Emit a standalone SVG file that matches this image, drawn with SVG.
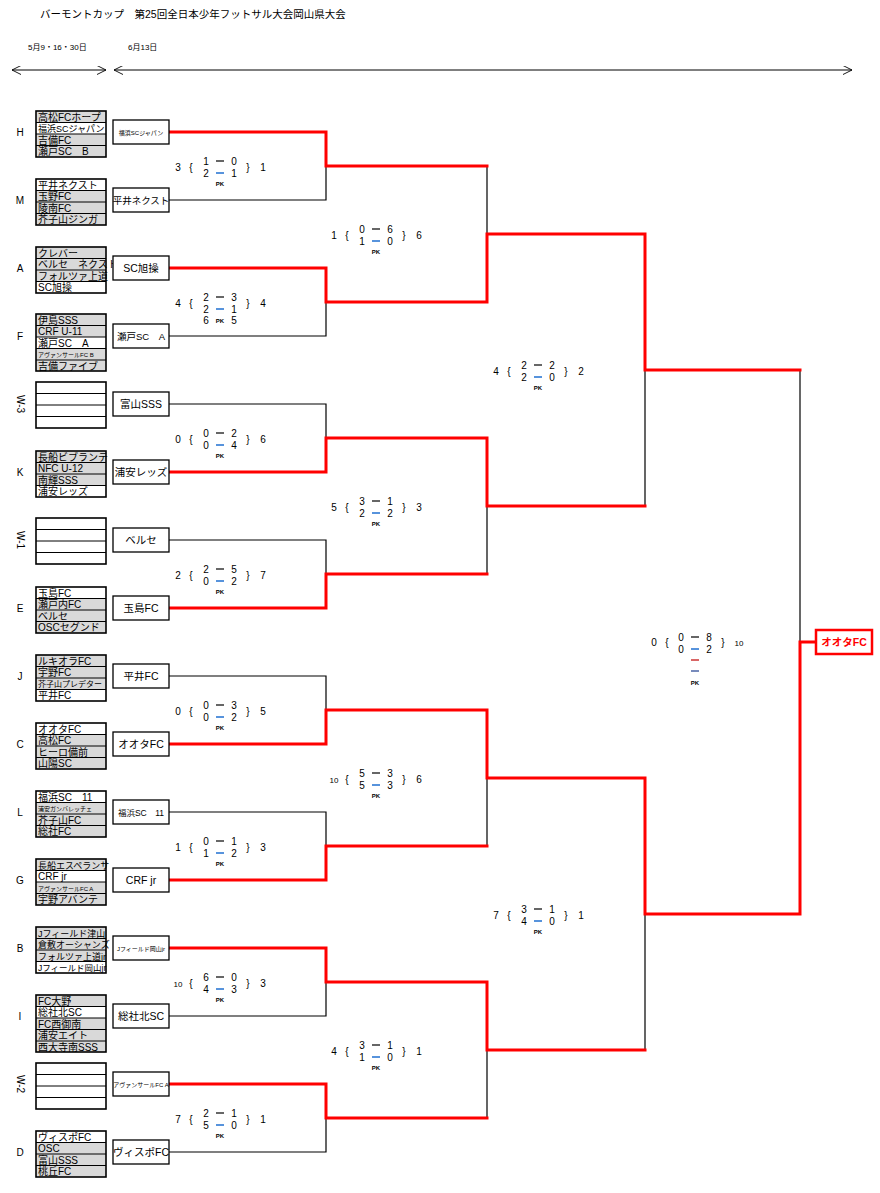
<svg xmlns="http://www.w3.org/2000/svg" width="880" height="1193" viewBox="0 0 880 1193">
<defs>
<marker id="ah" viewBox="0 0 10 10" refX="10" refY="5" markerWidth="9" markerHeight="9" orient="auto-start-reverse" markerUnits="userSpaceOnUse"><path d="M0,0 L10,5 L0,10" fill="none" stroke="#000" stroke-width="1"/></marker>
</defs>
<style>
text{font-family:"Liberation Sans","Noto Sans CJK JP",sans-serif;fill:#000}
.t{font-size:10px}
.ts{font-size:6px}
.wb{fill:#fff;stroke:#000;stroke-width:1.3}
.wt{font-size:10.5px;text-anchor:middle}
.wts{font-size:6px;text-anchor:middle}
.g{fill:#d9d9d9}
.w{fill:#fff}
.ol{fill:none;stroke:#000;stroke-width:1.6}
.sep{stroke:#000;stroke-width:1}
.lt{font-size:10px;text-anchor:middle}
.s{font-size:10px;text-anchor:middle}
.pk{font-size:6px;text-anchor:middle;font-weight:bold}
.bk{fill:none;stroke:#000;stroke-width:1.2}
.rd{fill:none;stroke:#ff0000;stroke-width:3;stroke-linecap:square}
.d1{stroke:#000;stroke-width:1.2}
.d2{stroke:#1f6fd0;stroke-width:1.5}
</style>
<rect width="880" height="1193" fill="#fff"/>
<g id="header">
<text x="40" y="18" style="font-size:10.5px">バーモントカップ　第25回全日本少年フットサル大会岡山県大会</text>
<text x="28" y="50" style="font-size:8px">5月9・16・30日</text>
<text x="128" y="50" style="font-size:8px">6月13日</text>
<line x1="12" y1="70" x2="106" y2="70" stroke="#000" stroke-width="1" marker-start="url(#ah)" marker-end="url(#ah)"/>
<line x1="114" y1="70" x2="852" y2="70" stroke="#000" stroke-width="1" marker-start="url(#ah)" marker-end="url(#ah)"/>
</g>

<g id="connectors">
<!-- black lines -->
<path class="bk" d="M169,200H326V166 M169,336H326V302 M169,404H326V438 M169,540H326V574 M169,676H326V710 M169,812H326V846 M169,1016H326V982 M169,1152H326V1118"/>
<path class="bk" d="M487,166V234 M487,574V506 M487,846V778 M487,1118V1050"/>
<path class="bk" d="M645,506V370 M645,1050V914"/>
<path class="bk" d="M800,370V642"/>
<!-- red lines -->
<path class="rd" d="M169,132H326V166H487 M169,268H326V302H487V234H645V370H800 M169,472H326V438H487V506H645 M169,608H326V574H487"/>
<path class="rd" d="M169,744H326V710H487V778H645V914H800V642H816 M169,880H326V846H487 M169,948H326V982H487V1050H645 M169,1084H326V1118H487"/>
</g>

<g id="groups">
<!-- H -->
<g id="grp-H"><text class="lt" x="20" y="136">H</text>
<rect class="g" x="36" y="111" width="70" height="46"/><rect class="w" x="36" y="122.5" width="70" height="11.5"/>
<path class="sep" d="M36,122.5H106M36,134H106M36,145.5H106"/><rect class="ol" x="36" y="111" width="70" height="46"/>
<text class="t" x="38" y="120.5">高松FCホープ</text><text class="t" x="38" y="132" style="font-size:9px">福浜SCジャパン</text><text class="t" x="38" y="143.5">吉備FC</text><text class="t" x="38" y="155">瀬戸SC　B</text></g>
<!-- M -->
<g id="grp-M"><text class="lt" x="20" y="204">M</text>
<rect class="g" x="36" y="179" width="70" height="46"/><rect class="w" x="36" y="179" width="70" height="11.5"/>
<path class="sep" d="M36,190.5H106M36,202H106M36,213.5H106"/><rect class="ol" x="36" y="179" width="70" height="46"/>
<text class="t" x="38" y="188.5">平井ネクスト</text><text class="t" x="38" y="200">玉野FC</text><text class="t" x="38" y="211.5">陵南FC</text><text class="t" x="38" y="223">芥子山ジンガ</text></g>
<!-- A -->
<g id="grp-A"><text class="lt" x="20" y="272">A</text>
<rect class="g" x="36" y="247" width="70" height="46"/><rect class="w" x="36" y="281.5" width="70" height="11.5"/>
<path class="sep" d="M36,258.5H106M36,270H106M36,281.5H106"/><rect class="ol" x="36" y="247" width="70" height="46"/>
<text class="t" x="38" y="256.5">クレバー</text><text class="t" x="38" y="268">ベルセ　ネクスト</text><text class="t" x="38" y="279.5">フォルツァ上道</text><text class="t" x="38" y="291">SC旭操</text></g>
<!-- F -->
<g id="grp-F"><text class="lt" x="20" y="340">F</text>
<rect class="g" x="36" y="314" width="70" height="57"/><rect class="w" x="36" y="337" width="70" height="11.5"/>
<path class="sep" d="M36,325.5H106M36,337H106M36,348.5H106M36,360H106"/><rect class="ol" x="36" y="314" width="70" height="57"/>
<text class="t" x="38" y="323.5">伊島SSS</text><text class="t" x="38" y="335">CRF U-11</text><text class="t" x="38" y="346.5">瀬戸SC　A</text><text class="ts" x="38" y="357">アヴァンサールFC  B</text><text class="t" x="38" y="369.5">吉備ファイブ</text></g>
<!-- W-3 -->
<g id="grp-W3"><text class="lt" transform="translate(17,404) rotate(90)" x="0" y="0">W-3</text>
<rect class="w" x="36" y="382" width="70" height="46"/>
<path class="sep" d="M36,393.5H106M36,405H106M36,416.5H106"/><rect class="ol" x="36" y="382" width="70" height="46"/></g>
<!-- K -->
<g id="grp-K"><text class="lt" x="20" y="476">K</text>
<rect class="g" x="36" y="451" width="70" height="46"/><rect class="w" x="36" y="485.5" width="70" height="11.5"/>
<path class="sep" d="M36,462.5H106M36,474H106M36,485.5H106"/><rect class="ol" x="36" y="451" width="70" height="46"/>
<text class="t" x="38" y="460.5">長船ビブランテ</text><text class="t" x="38" y="472">NFC U-12</text><text class="t" x="38" y="483.5">南輝SSS</text><text class="t" x="38" y="495">浦安レッズ</text></g>
<!-- W-1 -->
<g id="grp-W1"><text class="lt" transform="translate(17,540) rotate(90)" x="0" y="0">W-1</text>
<rect class="w" x="36" y="518" width="70" height="46"/>
<path class="sep" d="M36,529.5H106M36,541H106M36,552.5H106"/><rect class="ol" x="36" y="518" width="70" height="46"/></g>
<!-- E -->
<g id="grp-E"><text class="lt" x="20" y="612">E</text>
<rect class="g" x="36" y="587" width="70" height="46"/><rect class="w" x="36" y="587" width="70" height="11.5"/>
<path class="sep" d="M36,598.5H106M36,610H106M36,621.5H106"/><rect class="ol" x="36" y="587" width="70" height="46"/>
<text class="t" x="38" y="596.5">玉島FC</text><text class="t" x="38" y="608">瀬戸内FC</text><text class="t" x="38" y="619.5">ベルセ</text><text class="t" x="38" y="631">OSCセグンド</text></g>
<!-- J -->
<g id="grp-J"><text class="lt" x="20" y="680">J</text>
<rect class="g" x="36" y="655" width="70" height="46"/><rect class="w" x="36" y="689.5" width="70" height="11.5"/>
<path class="sep" d="M36,666.5H106M36,678H106M36,689.5H106"/><rect class="ol" x="36" y="655" width="70" height="46"/>
<text class="t" x="38" y="664.5">ルキオラFC</text><text class="t" x="38" y="676">宇野FC</text><text class="t" x="38" y="687" style="font-size:8px">芥子山プレデター</text><text class="t" x="38" y="699">平井FC</text></g>
<!-- C -->
<g id="grp-C"><text class="lt" x="20" y="748">C</text>
<rect class="g" x="36" y="723" width="70" height="46"/><rect class="w" x="36" y="723" width="70" height="11.5"/>
<path class="sep" d="M36,734.5H106M36,746H106M36,757.5H106"/><rect class="ol" x="36" y="723" width="70" height="46"/>
<text class="t" x="38" y="732.5">オオタFC</text><text class="t" x="38" y="744">高松FC</text><text class="t" x="38" y="755.5">ヒーロ備前</text><text class="t" x="38" y="767">山陽SC</text></g>
<!-- L -->
<g id="grp-L"><text class="lt" x="20" y="816">L</text>
<rect class="g" x="36" y="791" width="70" height="46"/><rect class="w" x="36" y="791" width="70" height="11.5"/>
<path class="sep" d="M36,802.5H106M36,814H106M36,825.5H106"/><rect class="ol" x="36" y="791" width="70" height="46"/>
<text class="t" x="38" y="800.5">福浜SC　11</text><text class="ts" x="38" y="811">浦安ガンバレッチェ</text><text class="t" x="38" y="823.5">芥子山FC</text><text class="t" x="38" y="835">総社FC</text></g>
<!-- G -->
<g id="grp-G"><text class="lt" x="20" y="884">G</text>
<rect class="g" x="36" y="859" width="70" height="46"/><rect class="w" x="36" y="870.5" width="70" height="11.5"/>
<path class="sep" d="M36,870.5H106M36,882H106M36,893.5H106"/><rect class="ol" x="36" y="859" width="70" height="46"/>
<text class="t" x="38" y="868.5" style="font-size:9px">長船エスペランサ</text><text class="t" x="38" y="880">CRF jr</text><text class="ts" x="38" y="890.5">アヴァンサールFC  A</text><text class="t" x="38" y="903">宇野アバンテ</text></g>
<!-- B -->
<g id="grp-B"><text class="lt" x="20" y="952">B</text>
<rect class="g" x="36" y="927" width="70" height="46"/><rect class="w" x="36" y="961.5" width="70" height="11.5"/>
<path class="sep" d="M36,938.5H106M36,950H106M36,961.5H106"/><rect class="ol" x="36" y="927" width="70" height="46"/>
<text class="t" x="38" y="936.5" style="font-size:9px">Jフィールド津山</text><text class="t" x="38" y="948" style="font-size:9px">倉敷オーシャンズ</text><text class="t" x="38" y="959.5" style="font-size:9px">フォルツァ上道jr</text><text class="t" x="38" y="971" style="font-size:8.5px">Jフィールド岡山jr</text></g>
<!-- I -->
<g id="grp-I"><text class="lt" x="20" y="1020">I</text>
<rect class="g" x="36" y="995" width="70" height="57"/><rect class="w" x="36" y="1006.5" width="70" height="11.5"/>
<path class="sep" d="M36,1006.5H106M36,1018H106M36,1029.5H106M36,1041H106"/><rect class="ol" x="36" y="995" width="70" height="57"/>
<text class="t" x="38" y="1004.5">FC大野</text><text class="t" x="38" y="1016">総社北SC</text><text class="t" x="38" y="1027.5">FC西御南</text><text class="t" x="38" y="1039">浦安エイト</text><text class="t" x="38" y="1050.5">西大寺南SSS</text></g>
<!-- W-2 -->
<g id="grp-W2"><text class="lt" transform="translate(17,1084) rotate(90)" x="0" y="0">W-2</text>
<rect class="w" x="36" y="1063" width="70" height="46"/>
<path class="sep" d="M36,1074.5H106M36,1086H106M36,1097.5H106"/><rect class="ol" x="36" y="1063" width="70" height="46"/></g>
<!-- D -->
<g id="grp-D"><text class="lt" x="20" y="1156">D</text>
<rect class="g" x="36" y="1131" width="70" height="46"/><rect class="w" x="36" y="1131" width="70" height="11.5"/>
<path class="sep" d="M36,1142.5H106M36,1154H106M36,1165.5H106"/><rect class="ol" x="36" y="1131" width="70" height="46"/>
<text class="t" x="38" y="1140.5">ヴィスポFC</text><text class="t" x="38" y="1152">OSC</text><text class="t" x="38" y="1163.5">富山SSS</text><text class="t" x="38" y="1175">桃丘FC</text></g>
</g>

<g id="winners">
<g id="w0"><rect class="wb" x="113" y="120" width="56" height="24"/><text class="wts" x="141" y="134.5">福浜SCジャパン</text></g>
<g id="w1"><rect class="wb" x="113" y="188" width="56" height="24"/><text class="wt" x="141" y="204" style="font-size:9.5px">平井ネクスト</text></g>
<g id="w2"><rect class="wb" x="113" y="256" width="56" height="24"/><text class="wt" x="141" y="272">SC旭操</text></g>
<g id="w3"><rect class="wb" x="113" y="324" width="56" height="24"/><text class="wt" x="141" y="340" style="font-size:9.5px">瀬戸SC　A</text></g>
<g id="w4"><rect class="wb" x="113" y="392" width="56" height="24"/><text class="wt" x="141" y="408">富山SSS</text></g>
<g id="w5"><rect class="wb" x="113" y="460" width="56" height="24"/><text class="wt" x="141" y="476">浦安レッズ</text></g>
<g id="w6"><rect class="wb" x="113" y="528" width="56" height="24"/><text class="wt" x="141" y="544">ベルセ</text></g>
<g id="w7"><rect class="wb" x="113" y="596" width="56" height="24"/><text class="wt" x="141" y="612">玉島FC</text></g>
<g id="w8"><rect class="wb" x="113" y="664" width="56" height="24"/><text class="wt" x="141" y="680">平井FC</text></g>
<g id="w9"><rect class="wb" x="113" y="732" width="56" height="24"/><text class="wt" x="141" y="748">オオタFC</text></g>
<g id="w10"><rect class="wb" x="113" y="800" width="56" height="24"/><text class="wt" x="141" y="815.5" style="font-size:8.5px">福浜SC　11</text></g>
<g id="w11"><rect class="wb" x="113" y="868" width="56" height="24"/><text class="wt" x="141" y="884">CRF jr</text></g>
<g id="w12"><rect class="wb" x="113" y="936" width="56" height="24"/><text class="wts" x="141" y="950.5">Jフィールド岡山jr</text></g>
<g id="w13"><rect class="wb" x="113" y="1004" width="56" height="24"/><text class="wt" x="141" y="1020">総社北SC</text></g>
<g id="w14"><rect class="wb" x="113" y="1072" width="56" height="24"/><text class="wts" x="141" y="1086.5">アヴァンサールFC  A</text></g>
<g id="w15"><rect class="wb" x="113" y="1140" width="56" height="24"/><text class="wt" x="141" y="1156">ヴィスポFC</text></g>
<g id="champion"><rect x="816" y="630" width="56" height="24" fill="#fff" stroke="#ff0000" stroke-width="2.5"/><text x="844" y="646" style="font-size:10.5px;font-weight:bold;fill:#ff0000;text-anchor:middle">オオタFC</text></g>
</g>

<g id="scores">
<!-- R1 -->
<g transform="translate(178,166)"><text class="s" x="0" y="5">3</text><text class="s" x="13" y="5">{</text><text class="s" x="28" y="-1">1</text><text class="s" x="56" y="-1">0</text><text class="s" x="28" y="11">2</text><text class="s" x="56" y="11">1</text><text class="s" x="70" y="5">}</text><text class="s" x="85" y="5">1</text><line class="d1" x1="38" y1="-5" x2="46" y2="-5"/><line class="d2" x1="38" y1="7" x2="46" y2="7"/><text class="pk" x="42" y="20">PK</text></g>
<g transform="translate(178,302)"><text class="s" x="0" y="5">4</text><text class="s" x="13" y="5">{</text><text class="s" x="28" y="-1">2</text><text class="s" x="56" y="-1">3</text><text class="s" x="28" y="11">2</text><text class="s" x="56" y="11">1</text><text class="s" x="70" y="5">}</text><text class="s" x="85" y="5">4</text><line class="d1" x1="38" y1="-5" x2="46" y2="-5"/><line class="d2" x1="38" y1="7" x2="46" y2="7"/><text class="s" x="28" y="22">6</text><text class="pk" x="42" y="21">PK</text><text class="s" x="56" y="22">5</text></g>
<g transform="translate(178,438)"><text class="s" x="0" y="5">0</text><text class="s" x="13" y="5">{</text><text class="s" x="28" y="-1">0</text><text class="s" x="56" y="-1">2</text><text class="s" x="28" y="11">0</text><text class="s" x="56" y="11">4</text><text class="s" x="70" y="5">}</text><text class="s" x="85" y="5">6</text><line class="d1" x1="38" y1="-5" x2="46" y2="-5"/><line class="d2" x1="38" y1="7" x2="46" y2="7"/><text class="pk" x="42" y="20">PK</text></g>
<g transform="translate(178,574)"><text class="s" x="0" y="5">2</text><text class="s" x="13" y="5">{</text><text class="s" x="28" y="-1">2</text><text class="s" x="56" y="-1">5</text><text class="s" x="28" y="11">0</text><text class="s" x="56" y="11">2</text><text class="s" x="70" y="5">}</text><text class="s" x="85" y="5">7</text><line class="d1" x1="38" y1="-5" x2="46" y2="-5"/><line class="d2" x1="38" y1="7" x2="46" y2="7"/><text class="pk" x="42" y="20">PK</text></g>
<g transform="translate(178,710)"><text class="s" x="0" y="5">0</text><text class="s" x="13" y="5">{</text><text class="s" x="28" y="-1">0</text><text class="s" x="56" y="-1">3</text><text class="s" x="28" y="11">0</text><text class="s" x="56" y="11">2</text><text class="s" x="70" y="5">}</text><text class="s" x="85" y="5">5</text><line class="d1" x1="38" y1="-5" x2="46" y2="-5"/><line class="d2" x1="38" y1="7" x2="46" y2="7"/><text class="pk" x="42" y="20">PK</text></g>
<g transform="translate(178,846)"><text class="s" x="0" y="5">1</text><text class="s" x="13" y="5">{</text><text class="s" x="28" y="-1">0</text><text class="s" x="56" y="-1">1</text><text class="s" x="28" y="11">1</text><text class="s" x="56" y="11">2</text><text class="s" x="70" y="5">}</text><text class="s" x="85" y="5">3</text><line class="d1" x1="38" y1="-5" x2="46" y2="-5"/><line class="d2" x1="38" y1="7" x2="46" y2="7"/><text class="pk" x="42" y="20">PK</text></g>
<g transform="translate(178,982)"><text class="s" x="0" y="5" style="font-size:8px">10</text><text class="s" x="13" y="5">{</text><text class="s" x="28" y="-1">6</text><text class="s" x="56" y="-1">0</text><text class="s" x="28" y="11">4</text><text class="s" x="56" y="11">3</text><text class="s" x="70" y="5">}</text><text class="s" x="85" y="5">3</text><line class="d1" x1="38" y1="-5" x2="46" y2="-5"/><line class="d2" x1="38" y1="7" x2="46" y2="7"/><text class="pk" x="42" y="20">PK</text></g>
<g transform="translate(178,1118)"><text class="s" x="0" y="5">7</text><text class="s" x="13" y="5">{</text><text class="s" x="28" y="-1">2</text><text class="s" x="56" y="-1">1</text><text class="s" x="28" y="11">5</text><text class="s" x="56" y="11">0</text><text class="s" x="70" y="5">}</text><text class="s" x="85" y="5">1</text><line class="d1" x1="38" y1="-5" x2="46" y2="-5"/><line class="d2" x1="38" y1="7" x2="46" y2="7"/><text class="pk" x="42" y="20">PK</text></g>
<!-- R2 -->
<g transform="translate(334,234)"><text class="s" x="0" y="5">1</text><text class="s" x="13" y="5">{</text><text class="s" x="28" y="-1">0</text><text class="s" x="56" y="-1">6</text><text class="s" x="28" y="11">1</text><text class="s" x="56" y="11">0</text><text class="s" x="70" y="5">}</text><text class="s" x="85" y="5">6</text><line class="d1" x1="38" y1="-5" x2="46" y2="-5"/><line class="d2" x1="38" y1="7" x2="46" y2="7"/><text class="pk" x="42" y="20">PK</text></g>
<g transform="translate(334,506)"><text class="s" x="0" y="5">5</text><text class="s" x="13" y="5">{</text><text class="s" x="28" y="-1">3</text><text class="s" x="56" y="-1">1</text><text class="s" x="28" y="11">2</text><text class="s" x="56" y="11">2</text><text class="s" x="70" y="5">}</text><text class="s" x="85" y="5">3</text><line class="d1" x1="38" y1="-5" x2="46" y2="-5"/><line class="d2" x1="38" y1="7" x2="46" y2="7"/><text class="pk" x="42" y="20">PK</text></g>
<g transform="translate(334,778)"><text class="s" x="0" y="5" style="font-size:8px">10</text><text class="s" x="13" y="5">{</text><text class="s" x="28" y="-1">5</text><text class="s" x="56" y="-1">3</text><text class="s" x="28" y="11">5</text><text class="s" x="56" y="11">3</text><text class="s" x="70" y="5">}</text><text class="s" x="85" y="5">6</text><line class="d1" x1="38" y1="-5" x2="46" y2="-5"/><line class="d2" x1="38" y1="7" x2="46" y2="7"/><text class="pk" x="42" y="20">PK</text></g>
<g transform="translate(334,1050)"><text class="s" x="0" y="5">4</text><text class="s" x="13" y="5">{</text><text class="s" x="28" y="-1">3</text><text class="s" x="56" y="-1">1</text><text class="s" x="28" y="11">1</text><text class="s" x="56" y="11">0</text><text class="s" x="70" y="5">}</text><text class="s" x="85" y="5">1</text><line class="d1" x1="38" y1="-5" x2="46" y2="-5"/><line class="d2" x1="38" y1="7" x2="46" y2="7"/><text class="pk" x="42" y="20">PK</text></g>
<!-- R3 -->
<g transform="translate(496,370)"><text class="s" x="0" y="5">4</text><text class="s" x="13" y="5">{</text><text class="s" x="28" y="-1">2</text><text class="s" x="56" y="-1">2</text><text class="s" x="28" y="11">2</text><text class="s" x="56" y="11">0</text><text class="s" x="70" y="5">}</text><text class="s" x="85" y="5">2</text><line class="d1" x1="38" y1="-5" x2="46" y2="-5"/><line class="d2" x1="38" y1="7" x2="46" y2="7"/><text class="pk" x="42" y="20">PK</text></g>
<g transform="translate(496,914)"><text class="s" x="0" y="5">7</text><text class="s" x="13" y="5">{</text><text class="s" x="28" y="-1">3</text><text class="s" x="56" y="-1">1</text><text class="s" x="28" y="11">4</text><text class="s" x="56" y="11">0</text><text class="s" x="70" y="5">}</text><text class="s" x="85" y="5">1</text><line class="d1" x1="38" y1="-5" x2="46" y2="-5"/><line class="d2" x1="38" y1="7" x2="46" y2="7"/><text class="pk" x="42" y="20">PK</text></g>
<!-- Final -->
<g transform="translate(654,642)"><text class="s" x="0" y="4">0</text><text class="s" x="13" y="4">{</text><text class="s" x="27" y="-1">0</text><text class="s" x="55" y="-1">8</text><text class="s" x="27" y="11">0</text><text class="s" x="55" y="11">2</text><text class="s" x="69" y="4">}</text><text class="s" x="85" y="4" style="font-size:8px">10</text><line class="d1" x1="37" y1="-5" x2="45" y2="-5"/><line class="d2" x1="37" y1="7" x2="45" y2="7"/><line stroke="#c00000" stroke-width="1.2" x1="37" y1="18" x2="45" y2="18"/><line stroke="#1f3f8f" stroke-width="1.2" x1="37" y1="29" x2="45" y2="29"/><text class="pk" x="41" y="43">PK</text></g>
</g>
</svg>
